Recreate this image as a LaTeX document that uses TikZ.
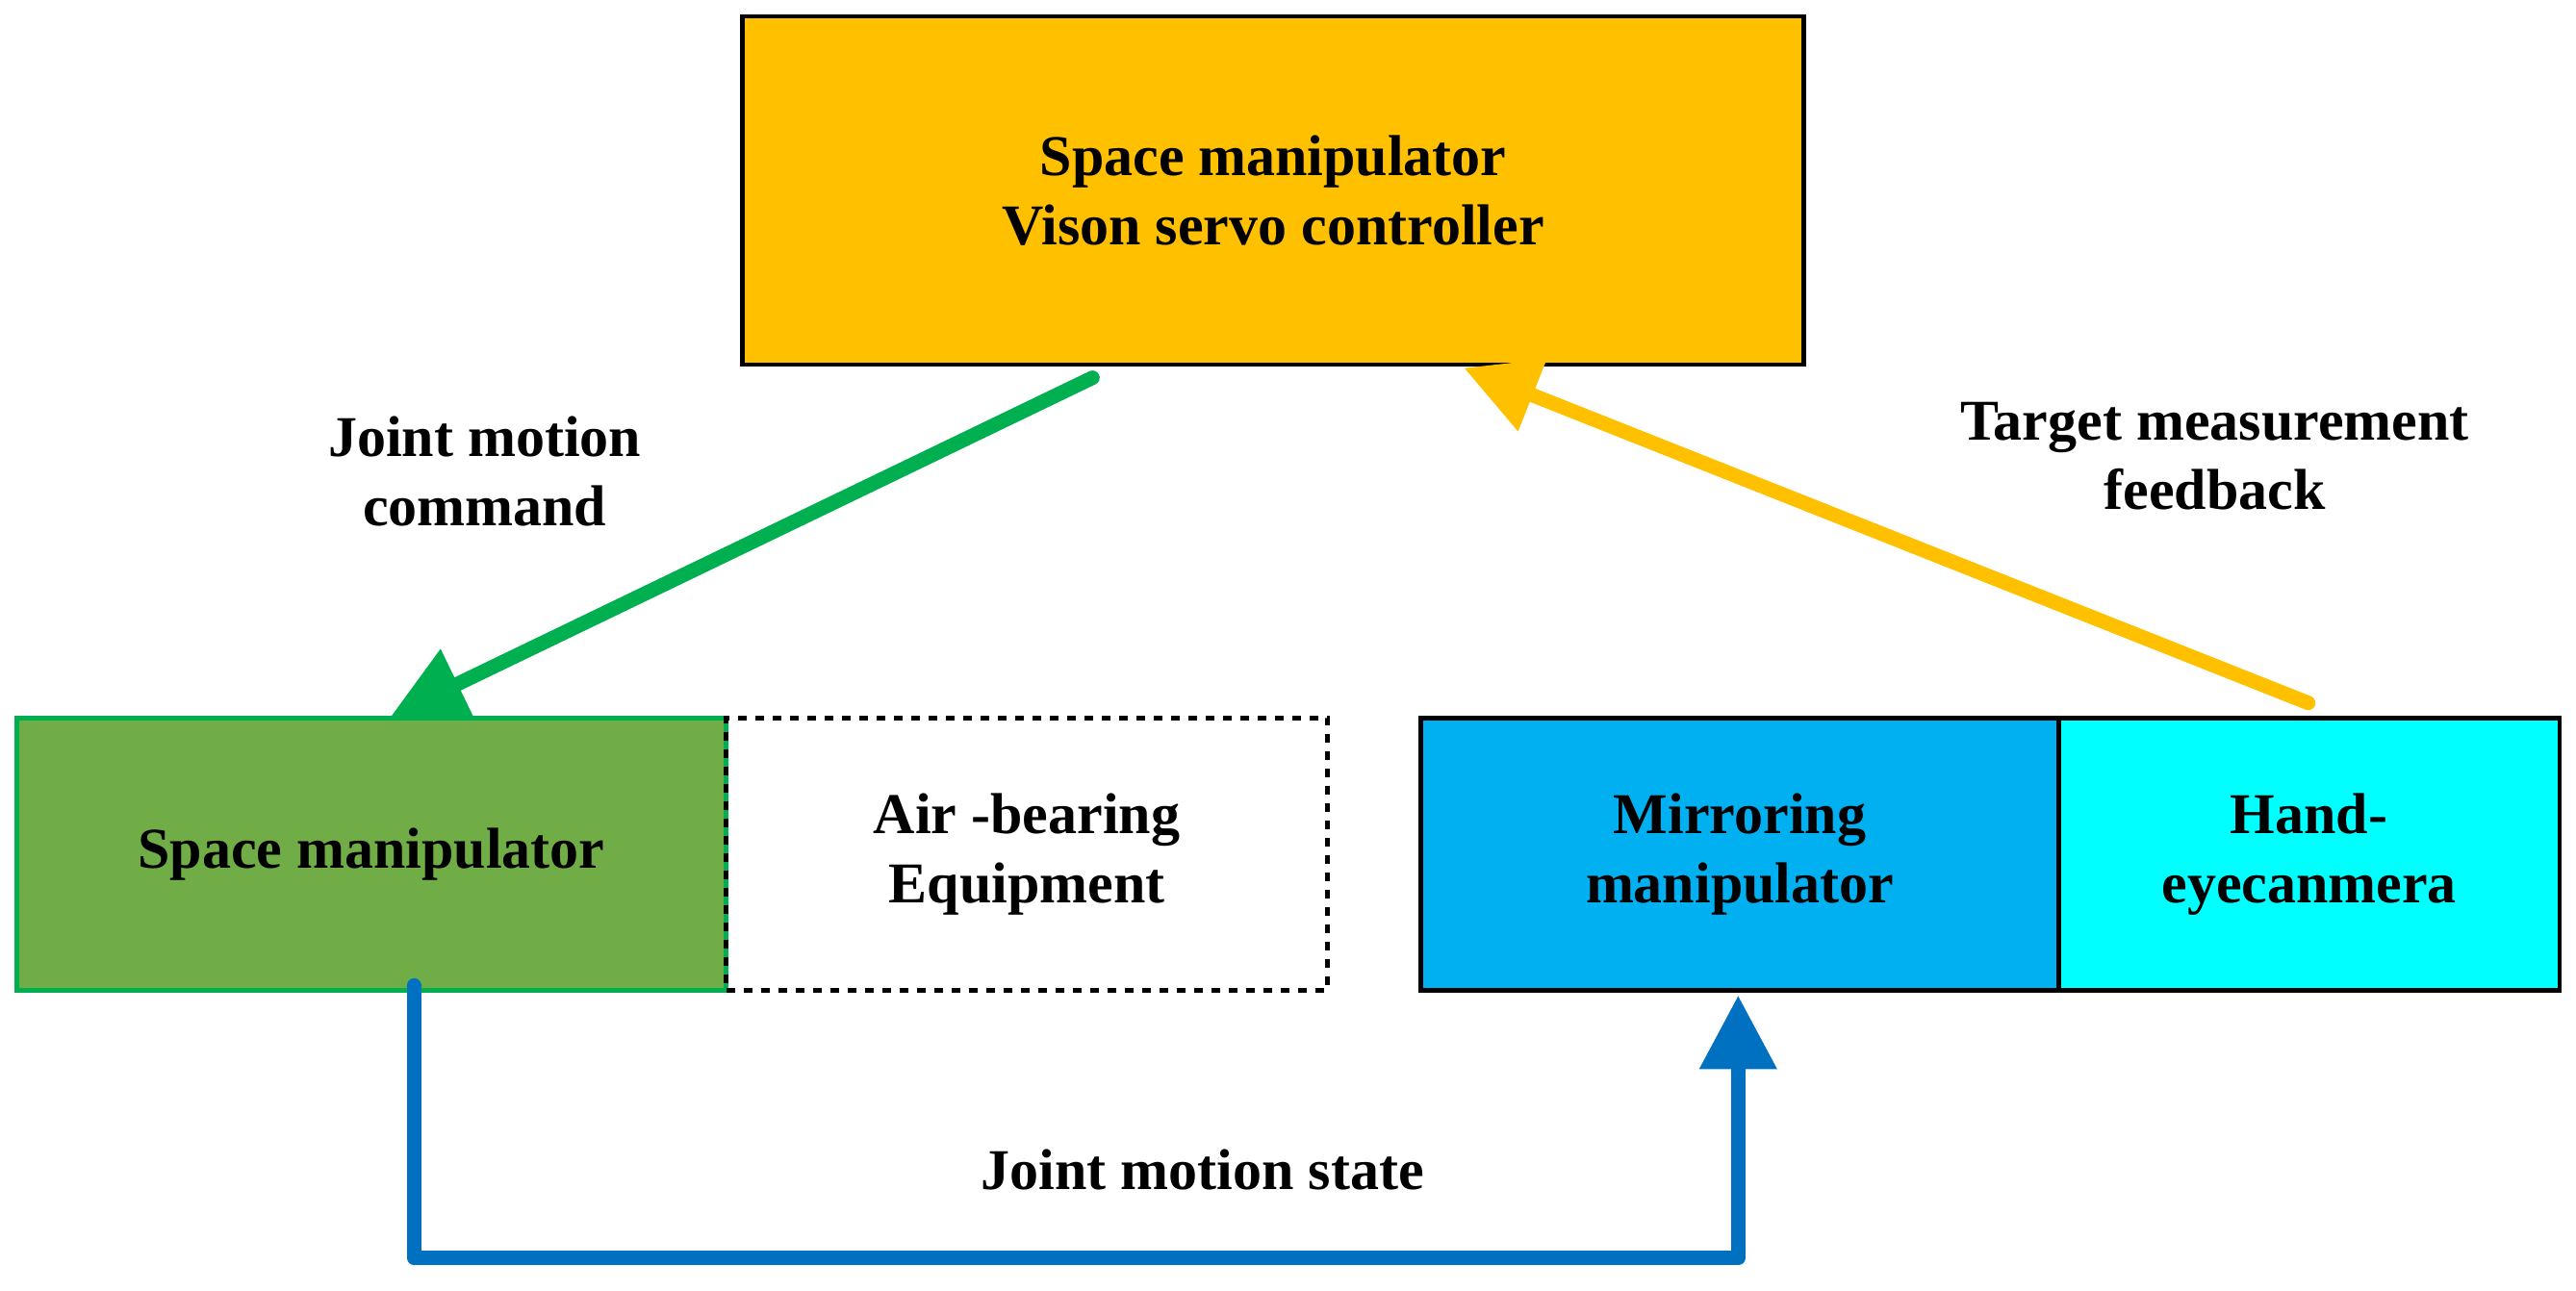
\documentclass[tikz,border=0pt]{standalone}
\usepackage{fontspec}
\setmainfont{Liberation Serif}
\usetikzlibrary{arrows.meta}
\definecolor{gold}{HTML}{FFC000}
\definecolor{grn}{HTML}{70AD47}
\definecolor{grnline}{HTML}{00B050}
\definecolor{sky}{HTML}{00B0F0}
\definecolor{cyanb}{HTML}{00FFFF}
\definecolor{blu}{HTML}{0070C0}
\tikzset{
  box/.style={draw=black, line width=1.6pt, minimum height=3.32cm, align=center, inner sep=0pt},
  lbl/.style={align=center, font=\fontsize{20}{24}\selectfont\bfseries},
  arr/.style={line width=5pt, -{Triangle[length=0.9cm,width=0.9cm]}}
}
\begin{document}
\begin{tikzpicture}[x=0.02cm,y=-0.02cm, font=\fontsize{20}{24}\selectfont\bfseries]
\useasboundingbox (0,0) rectangle (1568,786);
\node[box, fill=gold, minimum width=12.92cm, minimum height=4.24cm] (ctrl) at (775,116) {Space manipulator\\Vison servo controller};
\node[box, fill=grn, draw=grnline, minimum width=8.64cm] (sm) at (226,520) {Space manipulator};
\node[box, dashed, minimum width=7.32cm] (air) at (625,520) {Air -bearing\\Equipment};
\node[box, fill=sky, minimum width=7.76cm] (mir) at (1059,520) {Mirroring\\manipulator};
\node[box, fill=cyanb, minimum width=6.1cm] (cam) at (1405.5,520) {Hand-\\eyecanmera};
\coordinate (g1) at (665,230); \coordinate (g2) at (238,436);
\draw[arr, draw=grnline, color=grnline, line cap=round] (g1) -- (g2);
\coordinate (y1) at (1405,428); \coordinate (y2) at (891,224);
\draw[arr, draw=gold, color=gold, line cap=round] (y1) -- (y2);
\coordinate (b1) at (252,600); \coordinate (b2) at (252,766); \coordinate (b3) at (1058,766); \coordinate (b4) at (1058,606);
\draw[arr, draw=blu, color=blu, line cap=round, line join=round] (b1) -- (b2) -- (b3) -- (b4);
\node[lbl] (l1) at (295,287) {Joint motion\\command};
\node[lbl] (l2) at (1348,278) {Target measurement\\feedback};
\node[lbl] (l3) at (732,712) {Joint motion state};
\end{tikzpicture}
\end{document}
